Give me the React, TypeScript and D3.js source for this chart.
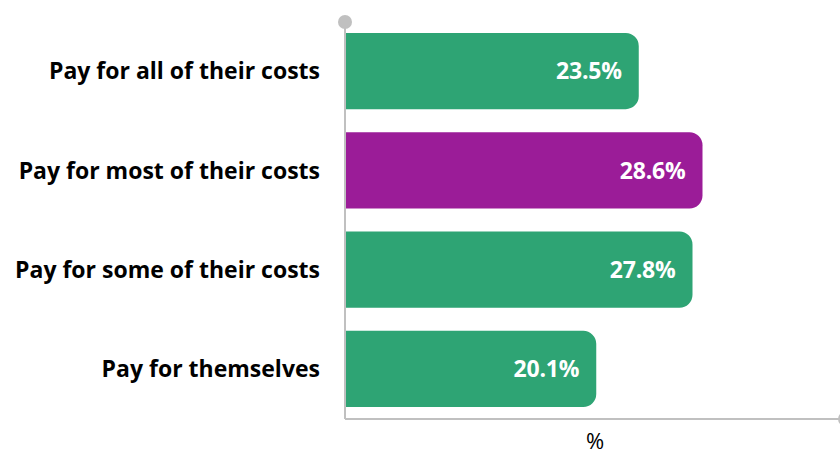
import React from "react";
import * as d3 from "d3";

const categories = [
  "Pay for all of their costs",
  "Pay for most of their costs",
  "Pay for some of their costs",
  "Pay for themselves",
];
const values = [23.5, 28.6, 27.8, 20.1];
const highlight = [false, true, false, false];
const axisTitle = "%";

const W = 840;
const H = 456;
const FONT = "'Open Sans', sans-serif";

function roundedRightBar(x0: number, x1: number, y: number, h: number, r: number) {
  const rr = Math.min(r, (x1 - x0) / 2, h / 2);
  const p = d3.path();
  p.moveTo(x0, y);
  p.lineTo(x1 - rr, y);
  p.arcTo(x1, y, x1, y + rr, rr);
  p.lineTo(x1, y + h - rr);
  p.arcTo(x1, y + h, x1 - rr, y + h, rr);
  p.lineTo(x0, y + h);
  p.closePath();
  return p.toString();
}

export default function App() {
  const x = d3.scaleLinear().domain([0, 40]).range([345, 845]);
  const y = d3
    .scaleBand<string>()
    .domain(categories)
    .range([21, 419])
    .paddingInner(0.232)
    .paddingOuter(0.12);
  const axisColor = "#c0c0c0";
  const [x0, x1] = x.range();
  const yTop = y.range()[0];
  const yBot = y.range()[1];

  return (
    <svg
      width={W}
      height={H}
      style={{ position: "absolute", left: 0, top: 0, background: "#fff" }}
      fontFamily={FONT}
    >
      {categories.map((c, i) => {
        const yy = y(c)!;
        const bw = y.bandwidth();
        return (
          <g key={c}>
            <path
              d={roundedRightBar(x0 + 1, x(values[i]), yy, bw, 13)}
              fill={highlight[i] ? "#9b1c98" : "#2ea474"}
            />
            <text
              x={x(values[i]) - 17}
              y={yy + bw / 2}
              dy="0.36em"
              textAnchor="end"
              fill="#fff"
              fontWeight="bold"
              fontSize={23}
              letterSpacing={-0.2}
            >
              {values[i].toFixed(1)}%
            </text>
            <text
              x={320}
              y={yy + bw / 2}
              dy="0.36em"
              textAnchor="end"
              fill="#000"
              fontWeight="bold"
              fontSize={23}
            >
              {c}
            </text>
          </g>
        );
      })}
      <line x1={x0} x2={x0} y1={yTop + 1} y2={yBot} stroke={axisColor} strokeWidth={2} />
      <line x1={x0} x2={x1} y1={yBot} y2={yBot} stroke={axisColor} strokeWidth={2} />
      <circle cx={x0} cy={yTop + 1} r={7} fill={axisColor} />
      <circle cx={x1} cy={yBot} r={7} fill={axisColor} />
      <text
        x={(x0 + x1) / 2}
        y={449}
        textAnchor="middle"
        fill="#000"
        fontSize={22}
      >
        {axisTitle}
      </text>
    </svg>
  );
}
